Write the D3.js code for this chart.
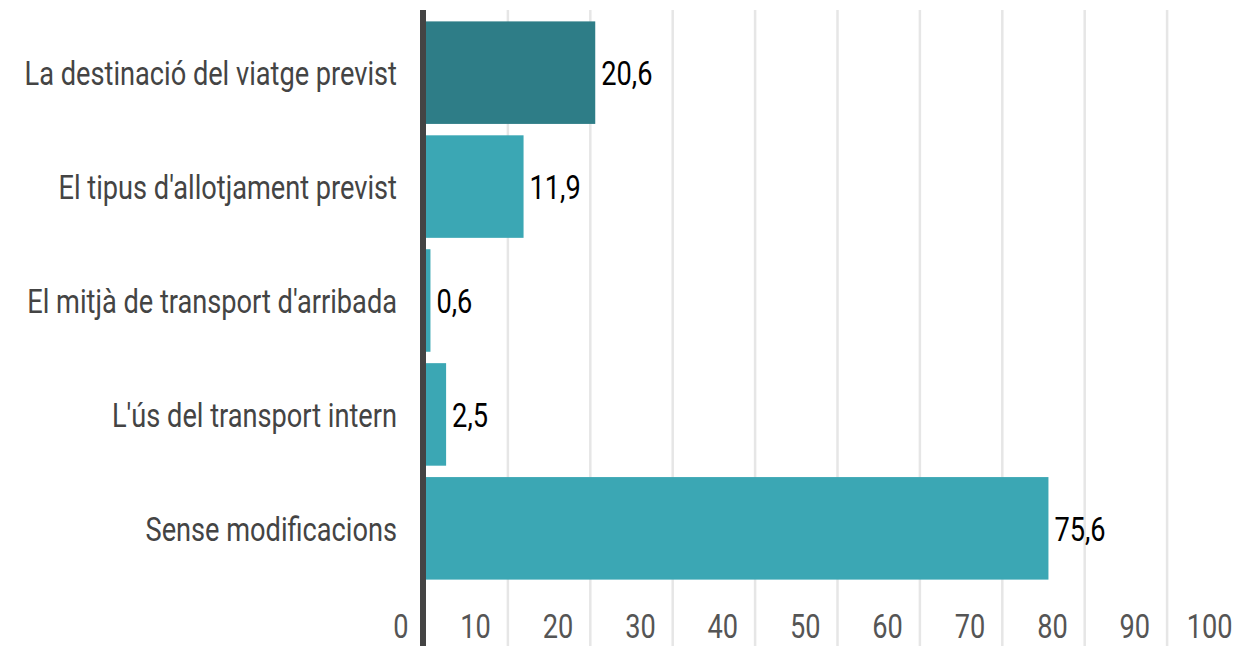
<!DOCTYPE html>
<html>
<head>
<meta charset="utf-8">
<script src="https://cdn.jsdelivr.net/npm/d3@7"></script>
<style>
  html, body { margin: 0; padding: 0; background: #fff; }
  svg text { font-family: Roboto, "DejaVu Sans Condensed", sans-serif; }
</style>
</head>
<body>
<svg id="chart" width="1245" height="646"></svg>
<script>
// --- Data ---
const categories = [
  "La destinació del viatge previst",
  "El tipus d'allotjament previst",
  "El mitjà de transport d'arribada",
  "L'ús del transport intern",
  "Sense modificacions",
];
const values = [20.6, 11.9, 0.6, 2.5, 75.6];
const highlighted = [true, false, false, false, false];
const xTicks = [0, 10, 20, 30, 40, 50, 60, 70, 80, 90, 100];

// --- Setup ---
const width = 1245,
  height = 646;
const svg = d3.select("#chart");
const fontSize = 34;
const narrow = 0.8; // no narrow font installed, squeeze Roboto instead

const x = d3.scaleLinear().domain([0, 100]).range([425.5, 1249.5]);
const y = d3
  .scaleBand()
  .domain(categories)
  .range([10, 591])
  .paddingInner(0.1)
  .paddingOuter(0.1);

const place = (px, py) => `translate(${px},${py}) scale(${narrow},1)`;

// gridlines
svg
  .append("g")
  .selectAll("line")
  .data(xTicks.slice(1))
  .enter()
  .append("line")
  .attr("x1", (d) => x(d))
  .attr("x2", (d) => x(d))
  .attr("y1", 10)
  .attr("y2", height)
  .attr("stroke", "#e6e6e6")
  .attr("stroke-width", 2.5);

// tick labels
svg
  .append("g")
  .selectAll("text")
  .data(xTicks)
  .enter()
  .append("text")
  .attr("transform", (d) => place(x(d) - 17, 638))
  .attr("text-anchor", "end")
  .attr("font-size", fontSize)
  .attr("fill", "#555")
  .text((d) => d);

// bars
svg
  .append("g")
  .selectAll("rect")
  .data(categories)
  .enter()
  .append("rect")
  .attr("x", x(0))
  .attr("y", (d) => y(d))
  .attr("width", (d, i) => x(values[i]) - x(0))
  .attr("height", y.bandwidth())
  .attr("fill", (d, i) => (highlighted[i] ? "#2e7d87" : "#3ba7b4"));

// value labels
svg
  .append("g")
  .selectAll("text")
  .data(categories)
  .enter()
  .append("text")
  .attr("transform", (d, i) => place(x(values[i]) + 6, y(d) + y.bandwidth() / 2))
  .attr("dy", "0.36em")
  .attr("font-size", fontSize)
  .attr("fill", "#000")
  .text((d, i) => d3.format(".1f")(values[i]).replace(".", ","));

// category labels
svg
  .append("g")
  .selectAll("text")
  .data(categories)
  .enter()
  .append("text")
  .attr("transform", (d) => place(397, y(d) + y.bandwidth() / 2))
  .attr("dy", "0.36em")
  .attr("text-anchor", "end")
  .attr("font-size", fontSize)
  .attr("fill", "#444")
  .text((d) => d);

// axis line
svg
  .append("line")
  .attr("x1", 423)
  .attr("x2", 423)
  .attr("y1", 10)
  .attr("y2", height)
  .attr("stroke", "#444")
  .attr("stroke-width", 6);
</script>
</body>
</html>
